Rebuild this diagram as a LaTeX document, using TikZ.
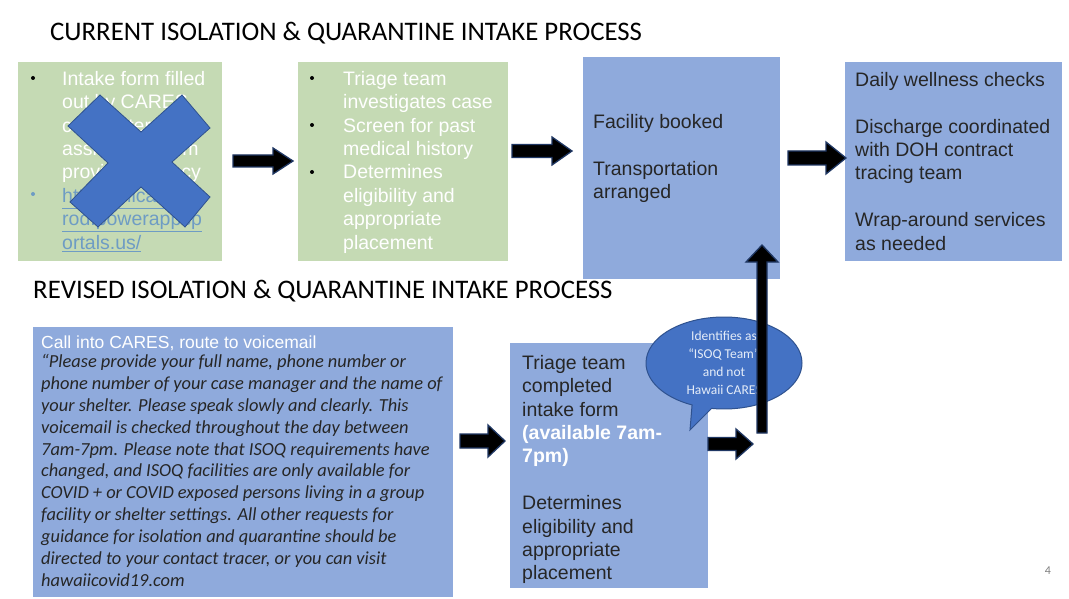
\documentclass[tikz,border=0pt]{standalone}
\usepackage{fontspec}
\setmainfont{Liberation Sans}
\newfontfamily\calib{Carlito}
\usetikzlibrary{shapes.callouts}
\definecolor{grn}{HTML}{C5DAB4}
\definecolor{blu}{HTML}{8FAADC}
\definecolor{bub}{HTML}{4472C4}
\definecolor{bubedge}{HTML}{2F528F}
\definecolor{navy}{HTML}{1F3763}
\definecolor{dark}{HTML}{262626}
\definecolor{lnk}{HTML}{6E9CC4}
\definecolor{bubtxt}{HTML}{E4ECF8}
\tikzset{
  pics/fatarrow/.style args={#1/#2/#3/#4}{code={
    \draw[fill=black, draw=navy, line width=1.3pt, line join=miter]
      (0,-#2) -- ({#1-#4},-#2) -- ({#1-#4},-#3) -- (#1,0) -- ({#1-#4},#3) -- ({#1-#4},#2) -- (0,#2) -- cycle;
  }},
  gbox/.style={anchor=north west, fill=grn, inner sep=0pt, outer sep=0pt},
  bbox/.style={anchor=north west, fill=blu, inner sep=0pt, outer sep=0pt},
  txt/.style={anchor=north west, inner sep=0pt, align=left, text=dark,
    font=\fontsize{19.5}{23.4}\selectfont},
  wtxt/.style={txt, text=white},
  ttl/.style={anchor=west, inner sep=0pt, text=black, font=\calib\fontsize{26.8}{30}\selectfont},
}
\begin{document}
\begin{tikzpicture}[x=1pt,y=-1pt]
\useasboundingbox (0,0) rectangle (1069,599);
\fill[white] (0,0) rectangle (1069,599);

% titles
\node[ttl] (title1) at (50,33) {CURRENT ISOLATION \& QUARANTINE INTAKE PROCESS};
\node[ttl] (title2) at (33,291) {REVISED ISOLATION \& QUARANTINE INTAKE PROCESS};

% boxes top
\node[gbox, minimum width=204pt, minimum height=199pt] (b1) at (18,62) {};
\node[gbox, minimum width=210pt, minimum height=199pt] (b2) at (298,62) {};
\node[bbox, minimum width=197pt, minimum height=222pt] (b3) at (583,57) {};
\node[bbox, minimum width=217pt, minimum height=199pt] (b4) at (845,62) {};
% boxes bottom
\node[bbox, minimum width=420pt, minimum height=270pt] (b5) at (33,327) {};
\node[bbox, minimum width=198pt, minimum height=245pt] (b6) at (510,343) {};

% box 1 text
\node[wtxt] (t1) at (62,71) {Intake form filled\\out by CARES\\call center with\\assistance from\\provider/agency\\
{\color{lnk}\underline{https://hicares-p}}\\{\color{lnk}\underline{rod.powerappsp}}\\{\color{lnk}\underline{ortals.us/}}};
\fill[black] (33,78) circle (2);
\fill[lnk] (33,194) circle (2);

% box 2 text
\node[wtxt] (t2) at (343,71) {Triage team\\investigates case\\Screen for past\\medical history\\Determines\\eligibility and\\appropriate\\placement};
\fill[black] (312,78) circle (2);
\fill[black] (312,125) circle (2);
\fill[black] (312,172) circle (2);

% box 3 text
\node[txt] (t3) at (593,114) {Facility booked\\[23.4pt]Transportation\\arranged};
% box 4 text
\node[txt] (t4) at (855,72) {Daily wellness checks\\[23.4pt]Discharge coordinated\\with DOH contract\\tracing team\\[23.4pt]Wrap-around services\\as needed};

% box 5 text
\node[anchor=north west, inner sep=0pt, text=white, font=\fontsize{17.5}{20}\selectfont] (t5h) at (41,336) {Call into CARES, route to voicemail};
\node[anchor=north west, inner sep=0pt, align=left, text=dark, font=\calib\itshape\fontsize{18.4}{21.9}\selectfont] (t5) at (41,354)
{\char"201CPlease provide your full name, phone number or\\
phone number of your case manager and the name of\\
your shelter. Please speak slowly and clearly. This\\
voicemail is checked throughout the day between\\
7am-7pm. Please note that ISOQ requirements have\\
changed, and ISOQ facilities are only available for\\
COVID + or COVID exposed persons living in a group\\
facility or shelter settings. All other requests for\\
guidance for isolation and quarantine should be\\
directed to your contact tracer, or you can visit\\
hawaiicovid19.com};

% box 6 text
\node[txt] (t6) at (522,355) {Triage team\\completed\\intake form\\{\color{white}\bfseries (available 7am-}\\{\color{white}\bfseries 7pm)}\\[23.4pt]Determines\\eligibility and\\appropriate\\placement};

% bubble
\node[ellipse callout, fill=bub, draw=bubedge, line width=1pt, minimum width=156pt, minimum height=92pt,
  callout absolute pointer={(690,430)}, align=center, text=bubtxt, inner sep=0pt,
  font=\calib\fontsize{13.5}{18}\selectfont] (bub) at (724,363)
  {Identifies as\\\char"201CISOQ Team\char"201D\\and not\\Hawaii CARES};

% X over box 1
\draw[fill=bub, draw=bubedge, line width=0.8pt, line join=miter]
  (68,126) -- (100,95) -- (141,132) -- (182,95) -- (210,128) -- (172,162)
  -- (210,197) -- (185,227) -- (141,187) -- (98,227) -- (70,202) -- (108,163) -- cycle;

% arrows
\pic at (233,161) {fatarrow=60/6/13/20};
\pic at (512,151) {fatarrow=60/6.5/14/20};
\pic at (788,158) {fatarrow=58/7/16/20};
\pic at (460,441) {fatarrow=45/7/16/17};
\pic at (708,444) {fatarrow=45/6.5/15/17};
\pic[rotate=90] at (762,433) {fatarrow=188/5/16/17};

% page number
\node[inner sep=0pt, text=gray, font=\calib\fontsize{12}{14}\selectfont] (pg) at (1048,571) {4};
\end{tikzpicture}
\end{document}
